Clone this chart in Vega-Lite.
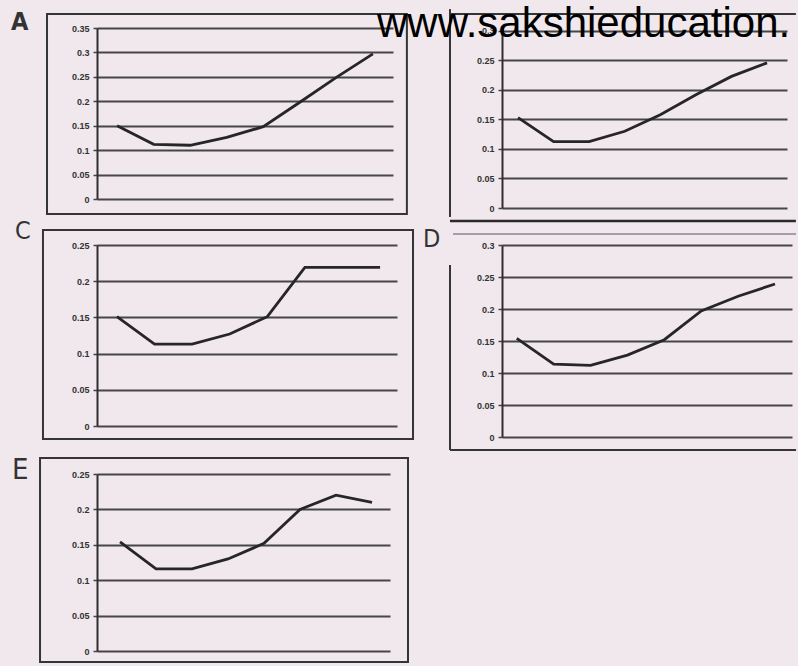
{
  "$schema": "https://vega.github.io/schema/vega-lite/v6.json",
  "background": "#f0e8ed",
  "padding": {"left": 11, "top": 2, "right": 0, "bottom": 3},
  "datasets": {
    "series": [
      {"panel": "A", "idx": 1, "value": 0.15},
      {"panel": "A", "idx": 2, "value": 0.112},
      {"panel": "A", "idx": 3, "value": 0.11},
      {"panel": "A", "idx": 4, "value": 0.126},
      {"panel": "A", "idx": 5, "value": 0.148},
      {"panel": "A", "idx": 6, "value": 0.198},
      {"panel": "A", "idx": 7, "value": 0.249},
      {"panel": "A", "idx": 8, "value": 0.297},
      {"panel": "B", "idx": 1, "value": 0.153},
      {"panel": "B", "idx": 2, "value": 0.1125},
      {"panel": "B", "idx": 3, "value": 0.1125},
      {"panel": "B", "idx": 4, "value": 0.13},
      {"panel": "B", "idx": 5, "value": 0.158},
      {"panel": "B", "idx": 6, "value": 0.192},
      {"panel": "B", "idx": 7, "value": 0.223},
      {"panel": "B", "idx": 8, "value": 0.246},
      {"panel": "C", "idx": 1, "value": 0.151},
      {"panel": "C", "idx": 2, "value": 0.113},
      {"panel": "C", "idx": 3, "value": 0.113},
      {"panel": "C", "idx": 4, "value": 0.127},
      {"panel": "C", "idx": 5, "value": 0.151},
      {"panel": "C", "idx": 6, "value": 0.219},
      {"panel": "C", "idx": 7, "value": 0.219},
      {"panel": "C", "idx": 8, "value": 0.219},
      {"panel": "D", "idx": 1, "value": 0.154},
      {"panel": "D", "idx": 2, "value": 0.114},
      {"panel": "D", "idx": 3, "value": 0.112},
      {"panel": "D", "idx": 4, "value": 0.128},
      {"panel": "D", "idx": 5, "value": 0.152},
      {"panel": "D", "idx": 6, "value": 0.197},
      {"panel": "D", "idx": 7, "value": 0.22},
      {"panel": "D", "idx": 8, "value": 0.239},
      {"panel": "E", "idx": 1, "value": 0.154},
      {"panel": "E", "idx": 2, "value": 0.116},
      {"panel": "E", "idx": 3, "value": 0.116},
      {"panel": "E", "idx": 4, "value": 0.13},
      {"panel": "E", "idx": 5, "value": 0.152},
      {"panel": "E", "idx": 6, "value": 0.2},
      {"panel": "E", "idx": 7, "value": 0.22},
      {"panel": "E", "idx": 8, "value": 0.21}
    ]
  },
  "columns": 2,
  "spacing": {"row": 37, "column": 105},
  "bounds": "flush",
  "align": "each",
  "concat": [
    {
      "width": 296, "height": 171,
      "title": {"text": "A", "anchor": "start", "frame": "group", "dx": -86, "dy": 26, "fontSize": 25, "fontWeight": "bold"},
      "layer": [
        {
          "data": {"name": "series"},
          "transform": [{"filter": "datum.panel === 'A'"}],
          "mark": {"type": "line", "color": "#262626", "strokeWidth": 2.8},
          "encoding": {
            "x": {"field": "idx", "type": "quantitative", "scale": {"domain": [0.45, 8.55], "nice": false, "zero": false}, "axis": null},
            "y": {"field": "value", "type": "quantitative", "scale": {"domain": [0, 0.35], "nice": false}, "axis": {"values": [0, 0.05, 0.1, 0.15, 0.2, 0.25, 0.3, 0.35]}}
          }
        },
        {
          "data": {"values": [{}]},
          "mark": {"type": "rect", "fillOpacity": 0, "stroke": "#353535", "strokeWidth": 2},
          "encoding": {
            "x": {"datum": -0.918, "type": "quantitative", "scale": {"domain": [0.45, 8.55], "nice": false, "zero": false}, "axis": null},
            "x2": {"datum": 8.93},
            "y": {"datum": 0.3787, "type": "quantitative", "scale": {"domain": [0, 0.35], "nice": false}, "axis": {"values": [0, 0.05, 0.1, 0.15, 0.2, 0.25, 0.3, 0.35]}},
            "y2": {"datum": -0.0307}
          }
        }
      ]
    },
    {
      "width": 285, "height": 180,
      "layer": [
        {
          "data": {"name": "series"},
          "transform": [{"filter": "datum.panel === 'B'"}],
          "mark": {"type": "line", "color": "#262626", "strokeWidth": 2.8},
          "encoding": {
            "x": {"field": "idx", "type": "quantitative", "scale": {"domain": [0.55, 8.56], "nice": false, "zero": false}, "axis": null},
            "y": {"field": "value", "type": "quantitative", "scale": {"domain": [0, 0.305], "nice": false}, "axis": {"values": [0, 0.05, 0.1, 0.15, 0.2, 0.25, 0.3]}}
          }
        },
        {
          "data": {"values": [{}]},
          "mark": {"type": "rule", "color": "#353535", "strokeWidth": 2},
          "encoding": {
            "x": {"datum": -0.912, "type": "quantitative", "scale": {"domain": [0.55, 8.56], "nice": false, "zero": false}, "axis": null},
            "x2": {"datum": 8.81},
            "y": {"datum": 0.3287, "type": "quantitative", "scale": {"domain": [0, 0.305], "nice": false}, "axis": {"values": [0, 0.05, 0.1, 0.15, 0.2, 0.25, 0.3]}}
          }
        },
        {
          "data": {"values": [{}]},
          "mark": {"type": "rule", "color": "#353535", "strokeWidth": 2},
          "encoding": {
            "x": {"datum": -0.912, "type": "quantitative", "scale": {"domain": [0.55, 8.56], "nice": false, "zero": false}, "axis": null},
            "y": {"datum": 0.337, "type": "quantitative", "scale": {"domain": [0, 0.305], "nice": false}, "axis": {"values": [0, 0.05, 0.1, 0.15, 0.2, 0.25, 0.3]}},
            "y2": {"datum": -0.0152}
          }
        },
        {
          "data": {"values": [{}]},
          "mark": {"type": "rule", "color": "#2a2a2a", "strokeWidth": 2.5},
          "encoding": {
            "x": {"datum": -0.912, "type": "quantitative", "scale": {"domain": [0.55, 8.56], "nice": false, "zero": false}, "axis": null},
            "x2": {"datum": 8.81},
            "y": {"datum": -0.022, "type": "quantitative", "scale": {"domain": [0, 0.305], "nice": false}, "axis": {"values": [0, 0.05, 0.1, 0.15, 0.2, 0.25, 0.3]}}
          }
        },
        {
          "data": {"values": [{}]},
          "mark": {"type": "text", "text": "www.sakshieducation.", "font": "Liberation Sans", "fontSize": 42, "color": "#000000", "align": "left", "baseline": "alphabetic"},
          "encoding": {
            "x": {"datum": -2.964, "type": "quantitative", "scale": {"domain": [0.55, 8.56], "nice": false, "zero": false}, "axis": null},
            "y": {"datum": 0.2898, "type": "quantitative", "scale": {"domain": [0, 0.305], "nice": false}, "axis": {"values": [0, 0.05, 0.1, 0.15, 0.2, 0.25, 0.3]}}
          }
        }
      ]
    },
    {
      "width": 300, "height": 181,
      "title": {"text": "C", "anchor": "start", "frame": "group", "dx": -82, "dy": 19, "fontSize": 25, "fontWeight": "normal"},
      "layer": [
        {
          "data": {"name": "series"},
          "transform": [{"filter": "datum.panel === 'C'"}],
          "mark": {"type": "line", "color": "#262626", "strokeWidth": 2.8},
          "encoding": {
            "x": {"field": "idx", "type": "quantitative", "scale": {"domain": [0.47, 8.45], "nice": false, "zero": false}, "axis": null},
            "y": {"field": "value", "type": "quantitative", "scale": {"domain": [0, 0.25], "nice": false}, "axis": {"values": [0, 0.05, 0.1, 0.15, 0.2, 0.25]}}
          }
        },
        {
          "data": {"values": [{}]},
          "mark": {"type": "rect", "fillOpacity": 0, "stroke": "#353535", "strokeWidth": 2},
          "encoding": {
            "x": {"datum": -0.967, "type": "quantitative", "scale": {"domain": [0.47, 8.45], "nice": false, "zero": false}, "axis": null},
            "x2": {"datum": 8.876},
            "y": {"datum": 0.2707, "type": "quantitative", "scale": {"domain": [0, 0.25], "nice": false}, "axis": {"values": [0, 0.05, 0.1, 0.15, 0.2, 0.25]}},
            "y2": {"datum": -0.018}
          }
        }
      ]
    },
    {
      "width": 290, "height": 192,
      "title": {"text": "D", "anchor": "start", "frame": "group", "dx": -79, "dy": 23, "fontSize": 25, "fontWeight": "normal"},
      "layer": [
        {
          "data": {"name": "series"},
          "transform": [{"filter": "datum.panel === 'D'"}],
          "mark": {"type": "line", "color": "#262626", "strokeWidth": 2.8},
          "encoding": {
            "x": {"field": "idx", "type": "quantitative", "scale": {"domain": [0.6, 8.46], "nice": false, "zero": false}, "axis": null},
            "y": {"field": "value", "type": "quantitative", "scale": {"domain": [0, 0.3], "nice": false}, "axis": {"values": [0, 0.05, 0.1, 0.15, 0.2, 0.25, 0.3]}}
          }
        },
        {
          "data": {"values": [{}]},
          "mark": {"type": "rule", "color": "#8d8496", "strokeWidth": 1.5},
          "encoding": {
            "x": {"datum": -0.728, "type": "quantitative", "scale": {"domain": [0.6, 8.46], "nice": false, "zero": false}, "axis": null},
            "x2": {"datum": 8.57},
            "y": {"datum": 0.3172, "type": "quantitative", "scale": {"domain": [0, 0.3], "nice": false}, "axis": {"values": [0, 0.05, 0.1, 0.15, 0.2, 0.25, 0.3]}}
          }
        },
        {
          "data": {"values": [{}]},
          "mark": {"type": "rule", "color": "#353535", "strokeWidth": 2},
          "encoding": {
            "x": {"datum": -0.809, "type": "quantitative", "scale": {"domain": [0.6, 8.46], "nice": false, "zero": false}, "axis": null},
            "y": {"datum": 0.26875, "type": "quantitative", "scale": {"domain": [0, 0.3], "nice": false}, "axis": {"values": [0, 0.05, 0.1, 0.15, 0.2, 0.25, 0.3]}},
            "y2": {"datum": -0.0203}
          }
        },
        {
          "data": {"values": [{}]},
          "mark": {"type": "rule", "color": "#353535", "strokeWidth": 2},
          "encoding": {
            "x": {"datum": -0.809, "type": "quantitative", "scale": {"domain": [0.6, 8.46], "nice": false, "zero": false}, "axis": null},
            "x2": {"datum": 8.57},
            "y": {"datum": -0.0203, "type": "quantitative", "scale": {"domain": [0, 0.3], "nice": false}, "axis": {"values": [0, 0.05, 0.1, 0.15, 0.2, 0.25, 0.3]}}
          }
        }
      ]
    },
    {
      "width": 293, "height": 177,
      "title": {"text": "E", "anchor": "start", "frame": "group", "dx": -85, "dy": 32, "fontSize": 29, "fontWeight": "normal"},
      "layer": [
        {
          "data": {"name": "series"},
          "transform": [{"filter": "datum.panel === 'E'"}],
          "mark": {"type": "line", "color": "#262626", "strokeWidth": 2.8},
          "encoding": {
            "x": {"field": "idx", "type": "quantitative", "scale": {"domain": [0.36, 8.5], "nice": false, "zero": false}, "axis": null},
            "y": {"field": "value", "type": "quantitative", "scale": {"domain": [0, 0.25], "nice": false}, "axis": {"values": [0, 0.05, 0.1, 0.15, 0.2, 0.25]}}
          }
        },
        {
          "data": {"values": [{}]},
          "mark": {"type": "rect", "fillOpacity": 0, "stroke": "#353535", "strokeWidth": 2},
          "encoding": {
            "x": {"datum": -1.223, "type": "quantitative", "scale": {"domain": [0.36, 8.5], "nice": false, "zero": false}, "axis": null},
            "x2": {"datum": 9.0},
            "y": {"datum": 0.2726, "type": "quantitative", "scale": {"domain": [0, 0.25], "nice": false}, "axis": {"values": [0, 0.05, 0.1, 0.15, 0.2, 0.25]}},
            "y2": {"datum": -0.0155}
          }
        }
      ]
    }
  ],
  "config": {
    "view": {"stroke": null},
    "title": {"font": "Liberation Sans Narrow, DejaVu Sans Condensed, sans-serif", "color": "#333333", "offset": 0},
    "axis": {
      "title": null,
      "format": "~g",
      "grid": true,
      "gridColor": "#464646",
      "gridWidth": 1.8,
      "gridOpacity": 1,
      "domainColor": "#2e2e2e",
      "domainWidth": 2,
      "ticks": true,
      "tickSize": 4,
      "tickColor": "#444444",
      "tickWidth": 1.5,
      "labelPadding": 4,
      "labelFont": "Liberation Sans",
      "labelFontSize": 9,
      "labelFontWeight": "bold",
      "labelColor": "#333333"
    }
  }
}
